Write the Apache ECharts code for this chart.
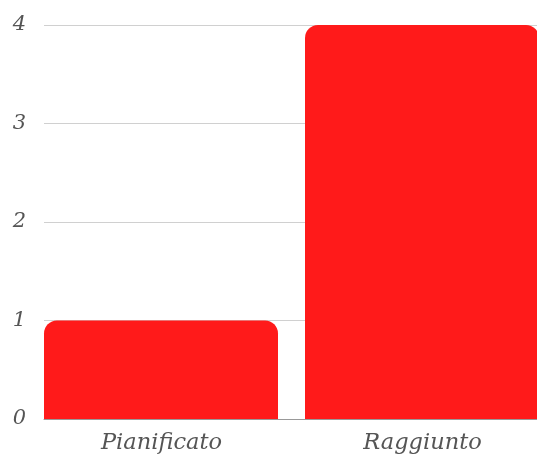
<!DOCTYPE html>
<html><head><meta charset="utf-8">
<script src="https://cdn.jsdelivr.net/npm/echarts@6/dist/echarts.min.js"></script>
<style>html,body{margin:0;padding:0;background:#fff}#c{width:537px;height:457px}</style>
</head><body><div id="c"></div>
<script>
var categories = ['Pianificato', 'Raggiunto'];
var values = [1, 4];
var yTicks = [0, 1, 2, 3, 4];

var chart = echarts.init(document.getElementById('c'), null, {renderer: 'canvas'});
var font = '"DejaVu Serif", serif';
chart.setOption({
  animation: false,
  grid: {left: 44, width: 522, top: 25, height: 394, containLabel: false, outerBoundsMode: 'none'},
  xAxis: {
    type: 'category',
    data: categories,
    axisTick: {show: false},
    axisLine: {show: true, lineStyle: {color: '#999', width: 1}},
    axisLabel: {
      color: '#555', fontFamily: font, fontStyle: 'italic', fontSize: 22.5,
      margin: 13, padding: [0, 26, 0, 0]
    }
  },
  yAxis: {
    type: 'value',
    min: yTicks[0], max: yTicks[yTicks.length - 1], interval: 1,
    axisLine: {show: false},
    axisTick: {show: false},
    splitLine: {lineStyle: {color: '#d0d0d0', width: 1}},
    axisLabel: {color: '#555', fontFamily: font, fontStyle: 'italic', fontSize: 21, margin: 18}
  },
  series: [
    {
      type: 'bar', data: values, barWidth: 234, barGap: 0, barCategoryGap: 0,
      itemStyle: {color: '#FF1A1A', borderRadius: [13, 13, 0, 0]}
    },
    {
      type: 'bar', data: ['-', '-'], barWidth: 27, barGap: 0, silent: true
    }
  ]
});
</script></body></html>
